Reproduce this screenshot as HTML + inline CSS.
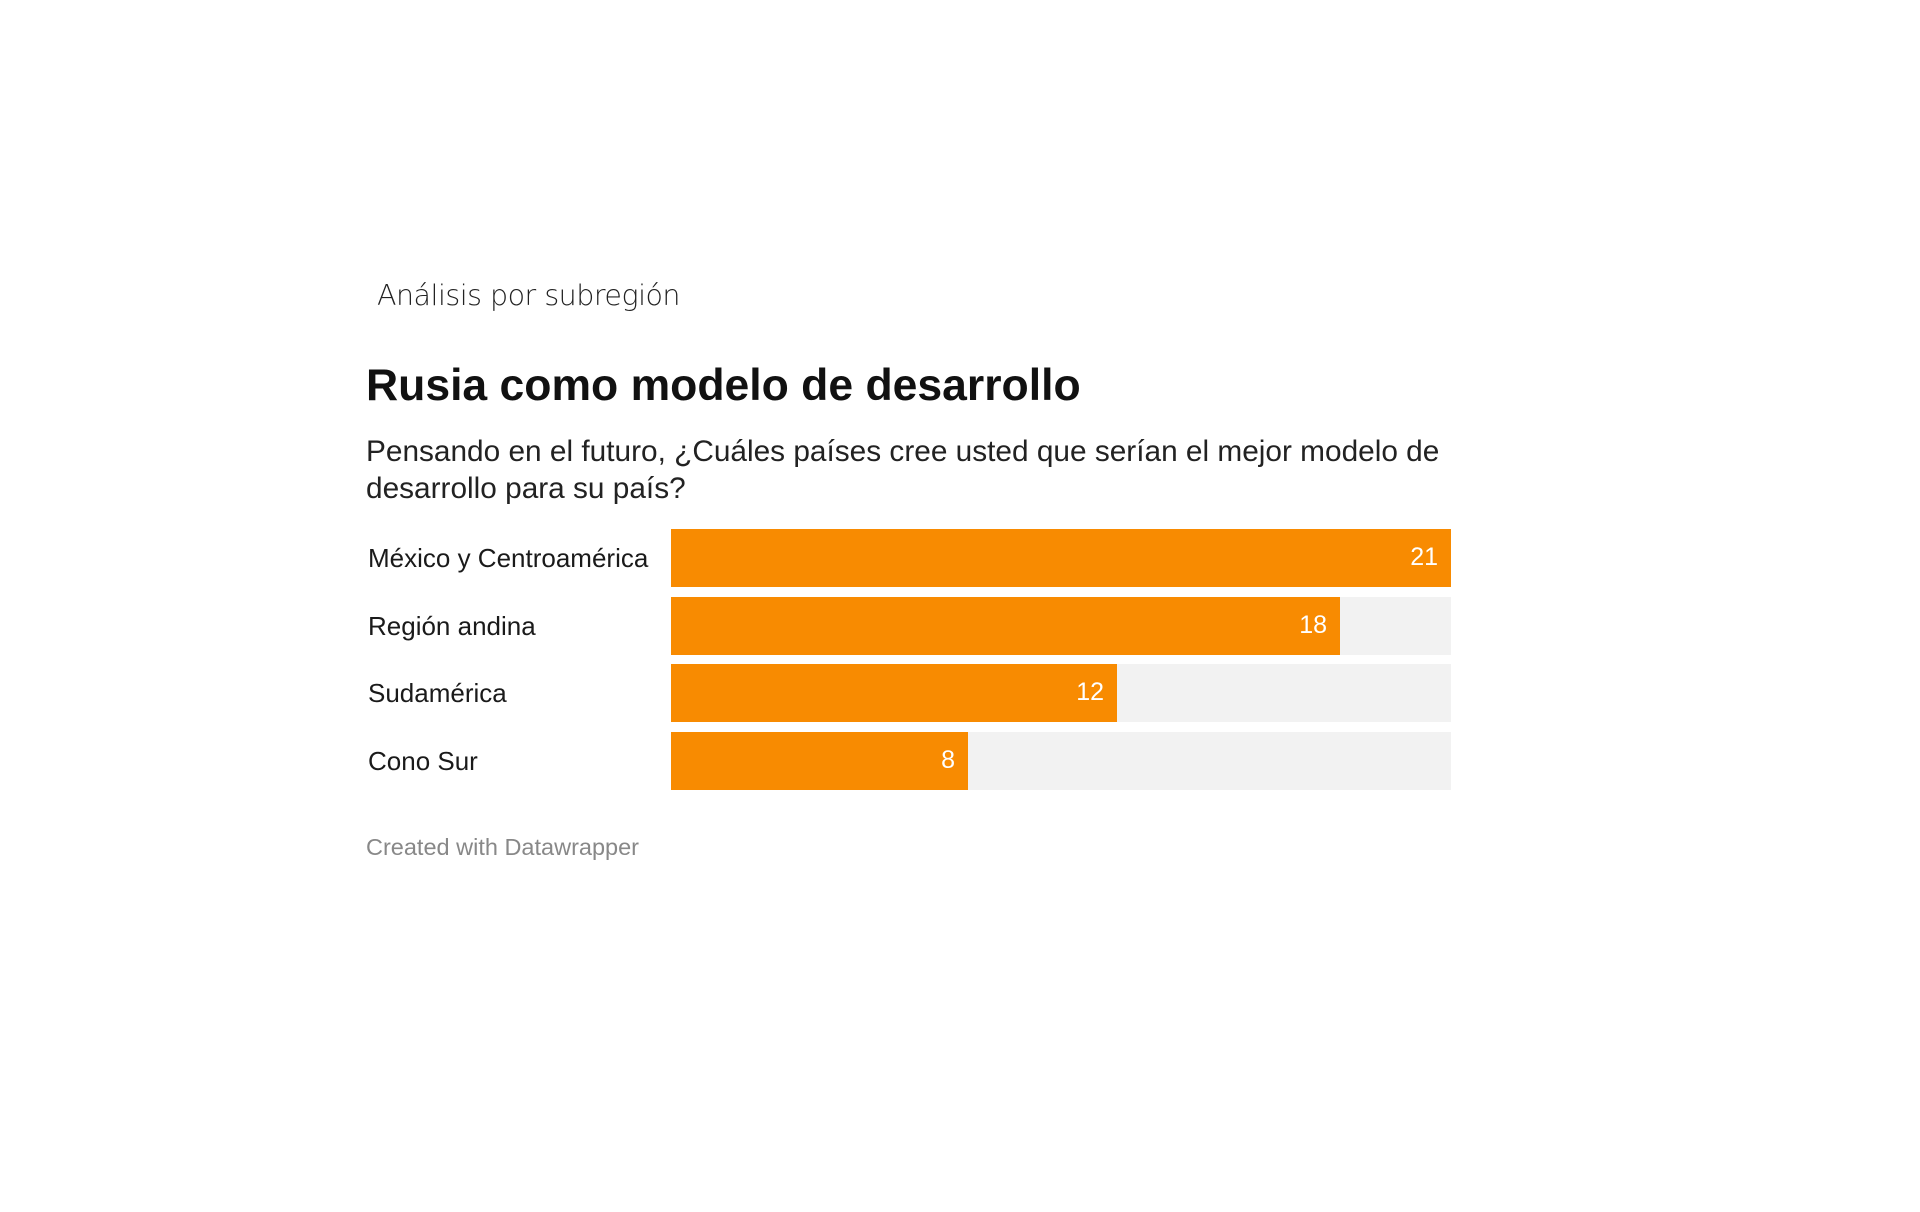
<!DOCTYPE html>
<html><head><meta charset="utf-8"><style>
html,body{margin:0;padding:0;background:#fff;}
body{width:1920px;height:1212px;position:relative;overflow:hidden;font-family:"Liberation Sans",sans-serif;}
.t{position:absolute;white-space:nowrap;}
.bg{position:absolute;left:671px;width:780px;height:58px;background:#f2f2f2;}
.bar{position:absolute;left:671px;height:58px;background:#f88b01;}
.v{position:absolute;color:#fff;font-size:25px;line-height:58px;text-align:right;left:671px;}
.lab{position:absolute;left:368px;font-size:26px;color:#1a1a1a;line-height:58px;}
</style></head><body>
<div class="t" style="left:377px;top:279px;font-size:28.5px;color:#222;font-family:'DejaVu Sans',sans-serif;font-weight:300;letter-spacing:-0.5px;">Análisis por subregión</div>
<div class="t" style="left:366px;top:361px;font-size:44.5px;font-weight:bold;color:#111;">Rusia como modelo de desarrollo</div>
<div class="t" style="left:366px;top:433px;font-size:29.8px;color:#222;line-height:37px;">Pensando en el futuro, ¿Cuáles países cree usted que serían el mejor modelo de<br>desarrollo para su país?</div>

<div class="lab" style="top:529px">México y Centroamérica</div>
<div class="bg" style="top:529px"></div><div class="bar" style="top:529px;width:780px"></div><div class="v" style="top:528px;width:767px">21</div>

<div class="lab" style="top:597px">Región andina</div>
<div class="bg" style="top:597px"></div><div class="bar" style="top:597px;width:669px"></div><div class="v" style="top:596px;width:656px">18</div>

<div class="lab" style="top:664px">Sudamérica</div>
<div class="bg" style="top:664px"></div><div class="bar" style="top:664px;width:446px"></div><div class="v" style="top:663px;width:433px">12</div>

<div class="lab" style="top:732px">Cono Sur</div>
<div class="bg" style="top:732px"></div><div class="bar" style="top:732px;width:297px"></div><div class="v" style="top:731px;width:284px">8</div>

<div class="t" style="left:366px;top:834px;font-size:23.5px;color:#888;">Created with Datawrapper</div>
</body></html>
